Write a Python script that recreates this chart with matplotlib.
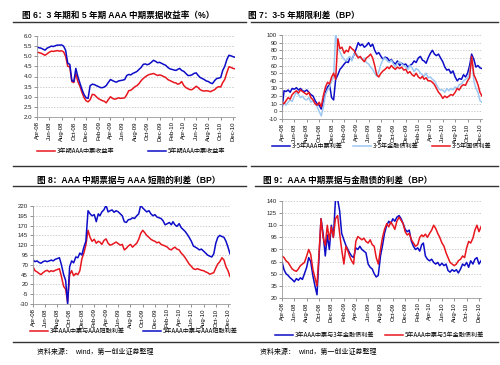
import matplotlib
matplotlib.use("Agg")
import matplotlib.pyplot as plt
import matplotlib.dates as mdates
import pandas as pd
from matplotlib.lines import Line2D

plt.rcParams['font.family'] = ['Liberation Sans', 'Noto Sans CJK SC', 'DejaVu Sans']

# dates: 1st, 11th, 21st of each month, Apr-08 .. Dec-10
months = pd.date_range('2008-04-01', '2010-12-01', freq='MS')
dates = [m + pd.Timedelta(days=d) for m in months for d in (0, 10, 20)][:98]

# 图6 yields (%)
yld_3y = [5.20, 5.18, 5.15, 5.10, 5.05, 5.12, 5.20, 5.25, 5.24, 5.26, 5.28, 5.25,
          5.27, 5.22, 5.00, 4.50, 4.48, 3.75, 3.70, 4.15, 3.75, 3.50, 3.20, 2.95,
          2.80, 2.75, 2.85, 3.12, 3.10, 3.00, 2.90, 2.85, 2.80, 2.78, 2.70, 2.85,
          3.00, 2.92, 2.88, 2.90, 2.95, 2.92, 2.93, 2.95, 3.10, 3.30, 3.32, 3.40,
          3.50, 3.55, 3.65, 3.80, 3.90, 3.98, 4.05, 4.10, 4.12, 4.15, 4.10, 4.05,
          4.08, 4.05, 4.00, 3.95, 3.85, 3.80, 3.75, 3.70, 3.68, 3.62, 3.65, 3.75,
          3.55, 3.45, 3.40, 3.35, 3.35, 3.42, 3.52, 3.45, 3.35, 3.30, 3.28, 3.30,
          3.28, 3.25, 3.30, 3.35, 3.45, 3.50, 3.48, 3.70, 3.85, 4.20, 4.48, 4.45,
          4.40, 4.38]
yld_5y = [5.45, 5.42, 5.40, 5.35, 5.30, 5.40, 5.45, 5.50, 5.48, 5.52, 5.55, 5.55,
          5.56, 5.50, 5.30, 4.65, 4.60, 3.80, 3.75, 4.40, 4.00, 3.65, 3.35, 3.10,
          2.95, 2.92, 3.55, 3.62, 3.60, 3.55, 3.50, 3.45, 3.45, 3.48, 3.55, 3.70,
          3.85, 3.80, 3.75, 3.72, 3.78, 3.80, 3.82, 3.85, 4.05, 4.10, 4.08, 4.15,
          4.20, 4.25, 4.35, 4.45, 4.60, 4.62, 4.58, 4.62, 4.70, 4.80, 4.75, 4.68,
          4.70, 4.65, 4.60, 4.55, 4.45, 4.38, 4.35, 4.32, 4.30, 4.35, 4.40, 4.30,
          4.25, 4.15, 4.05, 4.05, 4.08, 4.15, 4.18, 4.05, 3.95, 3.90, 3.85, 3.78,
          3.75, 3.68, 3.65, 3.80, 3.90, 3.92, 3.95, 4.30, 4.50, 4.85, 5.05, 5.02,
          4.98, 4.95]

# 图7 3-5 term spreads (BP)
term_mtn = [2, 27, 26, 28, 25, 30, 29, 31, 28, 30, 27, 26, 28, 25, 22, 20, 14, 10,
            8, 3, 12, 25, 32, 35, 18, 15, 42, 48, 55, 58, 62, 65, 64, 70, 68, 74,
            82, 90, 86, 88, 84, 86, 90, 85, 88, 80, 75, 77, 72, 68, 71, 70, 66, 68,
            64, 62, 66, 60, 63, 61, 62, 58, 60, 62, 66, 64, 70, 72, 67, 66, 63, 70,
            76, 80, 75, 73, 75, 70, 65, 58, 54, 55, 50, 53, 45, 40, 43, 42, 48, 45,
            50, 60, 75, 68, 58, 60, 57, 56]
term_fin = [10, 12, 8, 12, 15, 13, 20, 25, 22, 18, 20, 16, 15, 18, 12, 14, 10, 6,
            0, -6, 5, 22, 28, 32, 40, 45, 103, 82, 78, 72, 68, 66, 70, 72, 66, 75,
            76, 72, 70, 68, 70, 64, 62, 58, 55, 50, 46, 52, 62, 68, 70, 66, 64, 67,
            62, 58, 63, 65, 62, 60, 58, 55, 60, 57, 52, 56, 54, 50, 48, 46, 50, 44,
            45, 42, 40, 35, 30, 28, 28, 25, 30, 27, 30, 28, 32, 30, 35, 36, 40, 42,
            44, 50, 70, 40, 30, 25, 14, 12]
term_gov = [12, 10, 14, 18, 16, 22, 25, 27, 24, 28, 26, 24, 22, 25, 18, 15, 10, 8,
            12, 6, 20, 32, 38, 36, 45, 50, 42, 95, 82, 84, 76, 80, 78, 85, 82, 80,
            74, 70, 72, 68, 65, 70, 72, 75, 70, 60, 48, 45, 50, 53, 55, 58, 56, 60,
            57, 55, 58, 56, 58, 54, 55, 50, 52, 48, 46, 50, 45, 43, 46, 42, 44, 40,
            40, 38, 35, 30, 25, 22, 17, 20, 18, 20, 22, 21, 25, 30, 28, 33, 35, 34,
            40, 44, 72, 48, 42, 35, 25, 20]

# 图8 MTN vs CP spreads (BP)
cp_3y = [65, 55, 52, 48, 45, 50, 54, 56, 52, 55, 53, 56, 58, 60, 40, 15, 8, -25,
         45, 55, 42, 48, 45, 55, 85, 100, 120, 158, 140, 130, 135, 125, 130, 128,
         122, 132, 136, 125, 120, 122, 125, 128, 124, 120, 122, 108, 112, 118, 122,
         115, 120, 125, 135, 150, 158, 152, 145, 140, 135, 132, 130, 126, 128, 122,
         120, 118, 115, 110, 108, 112, 115, 110, 108, 100, 95, 88, 80, 72, 66, 60,
         58, 60, 58, 56, 55, 52, 50, 46, 48, 50, 62, 72, 78, 88, 82, 65, 55, 40]
cp_5y = [82, 78, 80, 76, 74, 78, 80, 78, 80, 82, 80, 84, 86, 88, 70, 45, 30, -30,
         65, 80, 75, 90, 88, 100, 95, 115, 130, 208, 200, 195, 198, 180, 200, 195,
         205, 210, 222, 205, 208, 210, 204, 208, 205, 200, 195, 180, 178, 185, 186,
         190, 188, 195, 200, 222, 215, 210, 205, 208, 200, 195, 198, 192, 190, 188,
         182, 172, 175, 178, 172, 180, 172, 168, 175, 165, 160, 155, 148, 140, 130,
         118, 115, 112, 108, 110, 105, 100, 95, 92, 90, 98, 125, 140, 145, 142, 140,
         130, 115, 98]

# 图9 MTN vs financial bond spreads (BP)
fin_3y = [65, 55, 50, 48, 45, 43, 40, 44, 42, 45, 43, 50, 58, 70, 65, 47, 35, 24,
          70, 118, 100, 72, 98, 80, 110, 95, 140, 142, 128, 100, 92, 85, 80, 76, 72,
          70, 82, 80, 84, 80, 78, 76, 62, 58, 56, 50, 46, 48, 72, 85, 100, 110, 115,
          112, 118, 115, 120, 122, 118, 112, 105, 102, 104, 90, 84, 80, 82, 78, 86,
          88, 72, 68, 66, 68, 64, 62, 64, 60, 63, 60, 62, 54, 52, 55, 53, 55, 51, 56,
          62, 60, 64, 58, 66, 62, 68, 70, 62, 66]
fin_5y = [72, 70, 66, 64, 60, 56, 54, 53, 56, 60, 62, 64, 72, 80, 74, 55, 45, 35,
          75, 118, 95, 85, 110, 92, 108, 95, 118, 122, 100, 80, 62, 84, 78, 72, 66,
          62, 90, 96, 94, 92, 94, 90, 88, 92, 86, 84, 70, 62, 80, 95, 105, 112, 108,
          114, 110, 105, 115, 120, 116, 112, 102, 98, 100, 92, 88, 84, 86, 95, 98,
          96, 99, 95, 100, 104, 110, 106, 100, 95, 88, 84, 76, 70, 64, 62, 60, 62,
          66, 68, 72, 70, 82, 90, 88, 94, 104, 110, 102, 108]

RED = '#E8161E'
BLUE = '#0D0DC8'
LBLUE = '#9CC8F2'
W, H = 500, 365

fig = plt.figure(figsize=(5.0, 3.65), dpi=100)


def fx(px):
    return px / W


def fy(py):
    return 1 - py / H


def panel(box, ylim, yticks, ytick_fmt, series, leg_xs, leg_y):
    x0, y0, x1, y1 = box
    ax = fig.add_axes([fx(x0), fy(y1), fx(x1 - x0), (y1 - y0) / H])
    for vals, color, label in series:
        ax.plot(dates, vals, color=color, lw=1.1, solid_joinstyle='round')
    ax.set_ylim(*ylim)
    ax.set_yticks(yticks)
    ax.set_yticklabels([ytick_fmt.format(v) for v in yticks])
    ax.set_xlim(pd.Timestamp('2008-04-01'), pd.Timestamp('2010-12-11'))
    ax.xaxis.set_major_locator(mdates.MonthLocator(bymonth=[2, 4, 6, 8, 10, 12]))
    ax.xaxis.set_major_formatter(mdates.DateFormatter('%b-%y'))
    ax.tick_params(axis='x', labelsize=4.3, rotation=90, length=2, width=0.5,
                   pad=1.2, colors='#666666', labelcolor='black')
    ax.tick_params(axis='y', labelsize=4.4, length=2, width=0.5, pad=1.5,
                   colors='#666666', labelcolor='#222222')
    ax.grid(axis='y', color='#BBBBBB', lw=0.5, linestyle=(0, (2, 2)))
    ax.set_axisbelow(True)
    for s in ('top', 'right'):
        ax.spines[s].set_visible(False)
    for s in ('left', 'bottom'):
        ax.spines[s].set_color('#999999')
        ax.spines[s].set_linewidth(0.6)
    # one small legend per entry, placed where the reference puts it
    for (vals, color, label), lx in zip(series, leg_xs):
        fig.legend([Line2D([0], [0], color=color, lw=1.1)], [label],
                   loc='center left', bbox_to_anchor=(fx(lx), fy(leg_y)),
                   frameon=False, borderpad=0, borderaxespad=0,
                   handlelength=3.0, handletextpad=0.2,
                   prop={'family': ['Noto Sans CJK SC', 'DejaVu Sans'], 'size': 4.4})
    return ax


panel((37, 36, 235, 117), (2.0, 6.0), [2.0 + 0.5 * i for i in range(9)], '{:.1f}',
      [(yld_3y, RED, '3年期AAA中票收益率'), (yld_5y, BLUE, '5年期AAA中票收益率')],
      [37, 148], 151)
panel((282, 35, 482, 119), (-10, 100), list(range(-10, 101, 10)), '{:d}',
      [(term_mtn, BLUE, '3-5年AAA中票利差'), (term_fin, LBLUE, '3-5年金融债利差'),
       (term_gov, RED, '3-5年国债利差')],
      [272, 353, 432], 146)
panel((33, 206, 230, 304), (-30, 220), list(range(-30, 221, 25)), '{:d}',
      [(cp_3y, RED, '3年AAA中票与AAA短融利差'), (cp_5y, BLUE, '5年AAA中票与AAA短融利差')],
      [30, 143], 331)
panel((282, 201, 481, 298), (20, 140), list(range(20, 141, 15)), '{:d}',
      [(fin_3y, BLUE, '3年AAA中票与3年金融债利差'), (fin_5y, RED, '5年AAA中票与5年金融债利差')],
      [275, 385], 335)

title_kw = dict(fontsize=6.2, fontweight='bold', va='center', ha='left',
                family=['Liberation Sans', 'Noto Sans CJK SC'])
fig.text(fx(22), fy(15), '图 6：3 年期和 5 年期 AAA 中期票据收益率（%）', **title_kw)
fig.text(fx(248), fy(15), '图 7：3-5 年期限利差（BP）', **title_kw)
fig.text(fx(37), fy(180), '图 8：AAA 中期票据与 AAA 短融的利差（BP）', **title_kw)
fig.text(fx(263), fy(180), '图 9：AAA 中期票据与金融债的利差（BP）', **title_kw)

src_kw = dict(fontsize=5, va='center', ha='left',
              family=['Liberation Sans', 'Noto Sans CJK SC'])
fig.text(fx(37), fy(352), '资料来源：  wind，第一创业证券整理', **src_kw)
fig.text(fx(260), fy(352), '资料来源：  wind，第一创业证券整理', **src_kw)

# horizontal rules
for (a, b, y) in [(13, 246, 22), (251, 498, 22), (13, 246, 166), (251, 498, 166),
                  (13, 246, 186), (255, 498, 186), (13, 498, 342)]:
    fig.add_artist(Line2D([fx(a), fx(b)], [fy(y), fy(y)], color='#333333', lw=1.0,
                          transform=fig.transFigure))

fig.savefig('out.png', dpi=100)
